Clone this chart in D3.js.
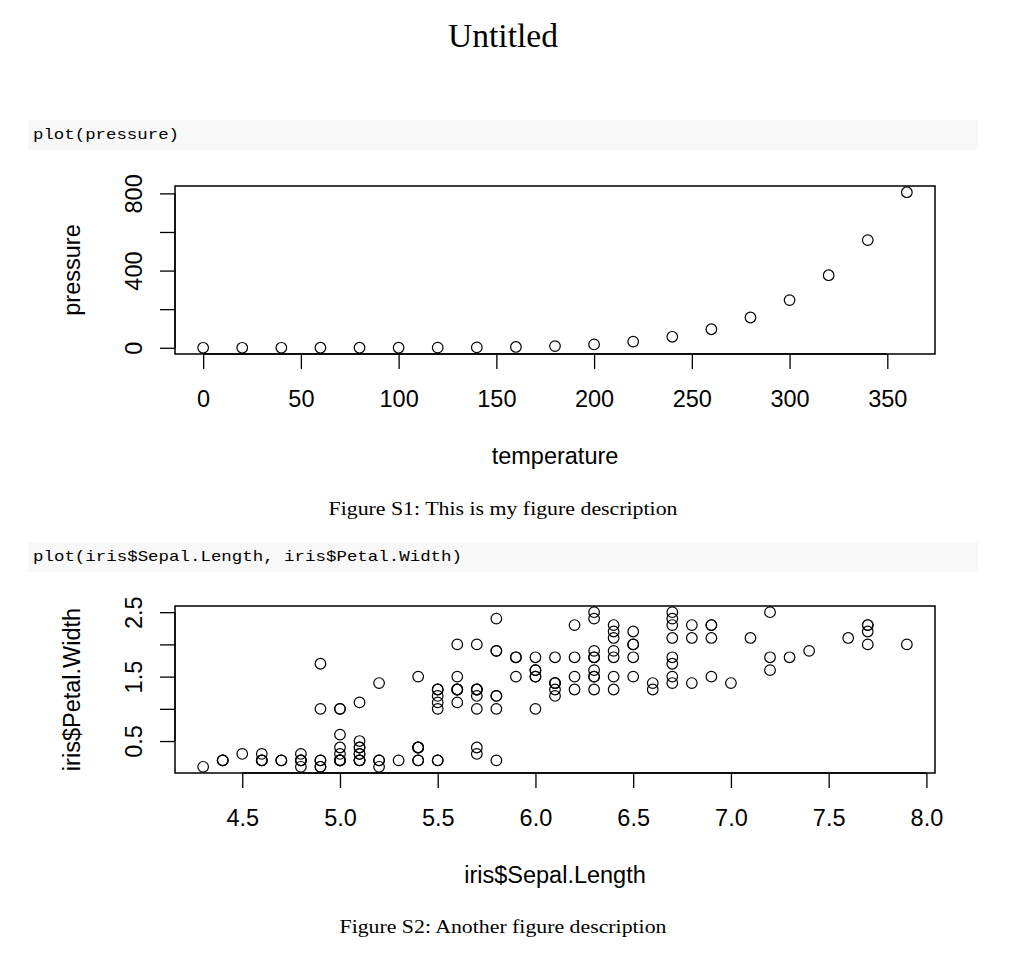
<!DOCTYPE html>
<html>
<head>
<meta charset="utf-8">
<script src="https://cdn.jsdelivr.net/npm/d3@7"></script>
<style>
  body { margin: 0; background: #fff; }
  .axisTitle, .tick text { font-family: "Liberation Sans", Arial, sans-serif; font-size: 23.5px; fill: #000; }
  .serif { font-family: "Liberation Serif", "DejaVu Serif", serif; fill: #000; }
  .code { font-family: "Liberation Mono", monospace; font-size: 15px; fill: #000; }
</style>
</head>
<body>
<script>
// pressure dataset
var temperature = [0, 20, 40, 60, 80, 100, 120, 140, 160, 180, 200, 220, 240, 260, 280, 300, 320, 340, 360];
var pressure = [0.0002, 0.0012, 0.006, 0.03, 0.09, 0.27, 0.75, 1.85, 4.2, 8.8, 17.3, 32.1, 57, 96, 157, 247, 376, 558, 806];

// iris dataset
var sepalLength = [
  5.1,4.9,4.7,4.6,5.0,5.4,4.6,5.0,4.4,4.9,5.4,4.8,4.8,4.3,5.8,5.7,5.4,5.1,5.7,5.1,5.4,5.1,4.6,5.1,4.8,
  5.0,5.0,5.2,5.2,4.7,4.8,5.4,5.2,5.5,4.9,5.0,5.5,4.9,4.4,5.1,5.0,4.5,4.4,5.0,5.1,4.8,5.1,4.6,5.3,5.0,
  7.0,6.4,6.9,5.5,6.5,5.7,6.3,4.9,6.6,5.2,5.0,5.9,6.0,6.1,5.6,6.7,5.6,5.8,6.2,5.6,5.9,6.1,6.3,6.1,6.4,
  6.6,6.8,6.7,6.0,5.7,5.5,5.5,5.8,6.0,5.4,6.0,6.7,6.3,5.6,5.5,5.5,6.1,5.8,5.0,5.6,5.7,5.7,6.2,5.1,5.7,
  6.3,5.8,7.1,6.3,6.5,7.6,4.9,7.3,6.7,7.2,6.5,6.4,6.8,5.7,5.8,6.4,6.5,7.7,7.7,6.0,6.9,5.6,7.7,6.3,6.7,
  7.2,6.2,6.1,6.4,7.2,7.4,7.9,6.4,6.3,6.1,7.7,6.3,6.4,6.0,6.9,6.7,6.9,5.8,6.8,6.7,6.7,6.3,6.5,6.2,5.9
];
var petalWidth = [
  0.2,0.2,0.2,0.2,0.2,0.4,0.3,0.2,0.2,0.1,0.2,0.2,0.1,0.1,0.2,0.4,0.4,0.3,0.3,0.3,0.2,0.4,0.2,0.5,0.2,
  0.2,0.4,0.2,0.2,0.2,0.2,0.4,0.1,0.2,0.2,0.2,0.2,0.1,0.2,0.2,0.3,0.3,0.2,0.6,0.4,0.3,0.2,0.2,0.2,0.2,
  1.4,1.5,1.5,1.3,1.5,1.3,1.6,1.0,1.3,1.4,1.0,1.5,1.0,1.4,1.3,1.4,1.5,1.0,1.5,1.1,1.8,1.3,1.5,1.2,1.3,
  1.4,1.4,1.7,1.5,1.0,1.1,1.0,1.2,1.6,1.5,1.6,1.5,1.3,1.3,1.3,1.2,1.4,1.2,1.0,1.3,1.2,1.3,1.3,1.1,1.3,
  2.5,1.9,2.1,1.8,2.2,2.1,1.7,1.8,1.8,2.5,2.0,1.9,2.1,2.0,2.4,2.3,1.8,2.2,2.3,1.5,2.3,2.0,2.0,1.8,2.1,
  1.8,1.8,1.8,2.1,1.6,1.9,2.0,2.2,1.5,1.4,2.3,2.4,1.8,1.8,2.1,2.4,2.3,1.9,2.3,2.5,2.3,1.9,2.0,2.3,1.8
];

// tick values
var pressureXTicks = [0, 50, 100, 150, 200, 250, 300, 350];
var pressureYTicks = [0, 200, 400, 600, 800];
var pressureYLabels = [0, 400, 800];
var irisXTicks = [4.5, 5.0, 5.5, 6.0, 6.5, 7.0, 7.5, 8.0];
var irisYTicks = [0.5, 1.0, 1.5, 2.0, 2.5];
var irisYLabels = [0.5, 1.5, 2.5];

var svgWidth = 1020;
var svgHeight = 956;

var svg = d3.select("body").append("svg")
    .attr("width", svgWidth)
    .attr("height", svgHeight);

// title
svg.append("text")
    .attr("class", "serif")
    .attr("x", 503).attr("y", 47)
    .attr("text-anchor", "middle")
    .attr("font-size", 33)
    .attr("textLength", 110)
    .attr("lengthAdjust", "spacingAndGlyphs")
    .text("Untitled");

function codeBlock(y, code, w) {
  svg.append("rect")
      .attr("x", 28).attr("y", y)
      .attr("width", 950).attr("height", 30)
      .attr("fill", "#f8f8f8");
  svg.append("text")
      .attr("class", "code")
      .attr("x", 33).attr("y", y + 19)
      .attr("textLength", w)
      .attr("lengthAdjust", "spacingAndGlyphs")
      .text(code);
}

function caption(y, txt, w) {
  svg.append("text")
      .attr("class", "serif")
      .attr("x", 503).attr("y", y)
      .attr("text-anchor", "middle")
      .attr("font-size", 18.5)
      .attr("textLength", w)
      .attr("lengthAdjust", "spacingAndGlyphs")
      .text(txt);
}

// R style 4% padding around data range
function rDomain(vals) {
  var ext = d3.extent(vals);
  var pad = (ext[1] - ext[0]) * 0.04;
  return [ext[0] - pad, ext[1] + pad];
}

function scatter(cfg) {
  var left = 175, right = 935;
  var x = d3.scaleLinear().domain(rDomain(cfg.xs)).range([left, right]);
  var y = d3.scaleLinear().domain(rDomain(cfg.ys)).range([cfg.bottom, cfg.top]);

  var g = svg.append("g");

  // x axis
  var xAxis = g.append("g")
      .attr("transform", `translate(0, ${cfg.bottom})`)
      .call(d3.axisBottom(x).tickValues(cfg.xTicks).tickSize(15).tickSizeOuter(0)
            .tickFormat(cfg.xFormat));
  xAxis.select(".domain").attr("d", `M${x(cfg.xTicks[0])},0H${x(cfg.xTicks[cfg.xTicks.length - 1])}`);
  xAxis.selectAll(".tick text").attr("y", 53).attr("dy", 0);

  // y axis
  var yAxis = g.append("g")
      .attr("transform", `translate(${left}, 0)`)
      .call(d3.axisLeft(y).tickValues(cfg.yTicks).tickSize(15).tickSizeOuter(0)
            .tickFormat(d => cfg.yLabels.indexOf(d) >= 0 ? cfg.yFormat(d) : ""));
  yAxis.select(".domain").attr("d", `M0,${y(cfg.yTicks[0])}V${y(cfg.yTicks[cfg.yTicks.length - 1])}`);
  yAxis.selectAll(".tick text")
      .attr("transform", "rotate(-90)")
      .attr("x", 0).attr("y", -33).attr("dy", 0)
      .attr("text-anchor", "middle");

  g.selectAll(".tick line").attr("stroke", "#000").attr("stroke-width", 1.3);
  g.selectAll(".domain").attr("stroke", "#000").attr("stroke-width", 1.3);

  // box
  g.append("rect")
      .attr("x", left).attr("y", cfg.top)
      .attr("width", right - left).attr("height", cfg.bottom - cfg.top)
      .attr("fill", "none").attr("stroke", "#000").attr("stroke-width", 1.5);

  // points
  g.selectAll("circle.pt")
      .data(cfg.xs.map((d, i) => [d, cfg.ys[i]]))
      .enter().append("circle")
      .attr("class", "pt")
      .attr("cx", d => x(d[0]))
      .attr("cy", d => y(d[1]))
      .attr("r", 5.3)
      .attr("fill", "none")
      .attr("stroke", "#000")
      .attr("stroke-width", 1.2);

  // axis titles
  g.append("text")
      .attr("class", "axisTitle")
      .attr("x", (left + right) / 2).attr("y", cfg.bottom + 110)
      .attr("text-anchor", "middle")
      .text(cfg.xTitle);
  g.append("text")
      .attr("class", "axisTitle")
      .attr("transform", `translate(80, ${(cfg.top + cfg.bottom) / 2}) rotate(-90)`)
      .attr("text-anchor", "middle")
      .text(cfg.yTitle);
}

codeBlock(120, "plot(pressure)", 146);
scatter({
  xs: temperature, ys: pressure, top: 186, bottom: 354,
  xTicks: pressureXTicks, yTicks: pressureYTicks, yLabels: pressureYLabels,
  xFormat: d3.format("d"), yFormat: d3.format("d"),
  xTitle: "temperature", yTitle: "pressure"
});
caption(515, "Figure S1: This is my figure description", 349);

codeBlock(542, "plot(iris$Sepal.Length, iris$Petal.Width)", 429);
scatter({
  xs: sepalLength, ys: petalWidth, top: 606, bottom: 773,
  xTicks: irisXTicks, yTicks: irisYTicks, yLabels: irisYLabels,
  xFormat: d3.format(".1f"), yFormat: d3.format(".1f"),
  xTitle: "iris$Sepal.Length", yTitle: "iris$Petal.Width"
});
caption(933, "Figure S2: Another figure description", 327);
</script>
</body>
</html>
